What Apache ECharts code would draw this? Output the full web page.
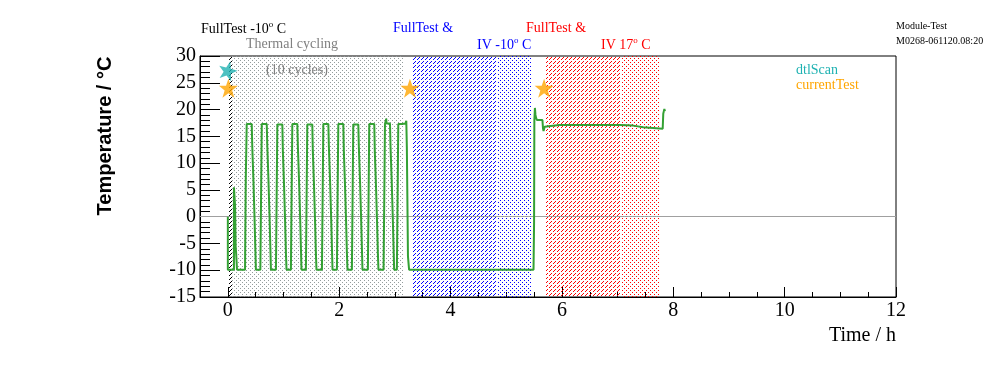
<!DOCTYPE html>
<html>
<head>
<meta charset="utf-8">
<script src="https://cdn.jsdelivr.net/npm/echarts@6/dist/echarts.min.js"></script>
<style>html,body{margin:0;padding:0;background:#fff}#c{width:996px;height:372px}</style>
</head>
<body>
<div id="c"></div>
<script>
// ---- data ----
const timeH = [
  0.0, 0.0, 0.11, 0.11, 0.125, 0.13, 0.14, 0.15, 0.165,
  0.309, 0.322, 0.339, 0.429, 0.439, 0.459, 0.479, 0.494, 0.504,
  0.584, 0.597, 0.609, 0.699, 0.709, 0.729, 0.749, 0.764, 0.774,
  0.864, 0.877, 0.889, 0.979, 0.989, 1.009, 1.029, 1.044, 1.054,
  1.133, 1.146, 1.158, 1.248, 1.258, 1.278, 1.298, 1.313, 1.323,
  1.402, 1.415, 1.427, 1.517, 1.527, 1.547, 1.567, 1.582, 1.592,
  1.690, 1.703, 1.715, 1.805, 1.815, 1.835, 1.855, 1.870, 1.880,
  1.959, 1.972, 1.984, 2.074, 2.084, 2.104, 2.124, 2.139, 2.149,
  2.228, 2.241, 2.253, 2.343, 2.353, 2.373, 2.393, 2.408, 2.418,
  2.515, 2.528, 2.540, 2.630, 2.640, 2.660, 2.680, 2.695, 2.705,
  2.797, 2.810, 2.822, 2.845, 2.850, 2.912, 2.922, 2.942, 2.962, 2.977, 2.987,
  3.036, 3.049, 3.061, 3.130, 3.190, 3.205, 3.215, 3.235, 3.255,
  5.490, 5.500, 5.505, 5.515, 5.525, 5.535, 5.550, 5.650, 5.660, 5.670, 5.690, 5.700,
  5.950, 5.960, 5.980, 6.850, 6.860, 6.880, 7.040, 7.280, 7.460, 7.810, 7.820, 7.840, 7.850
];
const temperatureC = [
  0.0, -9.9, -9.9, 5.5, 5.5, 2.0, -5.5, -7.0, -9.9,
  -9.9, 6.9, 17.3, 17.4, 13, 7, 0, -6, -9.9,
  -9.9, 4, 17.3, 17.4, 13, 7, 0, -6, -9.9,
  -9.9, 4, 17.2, 17.3, 12, 6, -1, -7, -9.9,
  -9.9, 5, 17.3, 17.3, 13, 7, 0, -6, -9.9,
  -9.9, 4, 17.2, 17.3, 12, 6, -1, -7, -9.9,
  -9.9, 4, 17.3, 17.4, 13, 7, 0, -6, -9.9,
  -9.9, 5, 17.3, 17.3, 12, 6, -1, -7, -9.9,
  -9.9, 4, 17.2, 17.3, 13, 7, 0, -6, -9.9,
  -9.9, 4, 17.3, 17.4, 12, 6, -1, -7, -9.9,
  -9.9, 4, 17.3, 18.3, 17.4, 17.4, 13, 7, 0, -6, -9.9,
  -9.9, 4, 17.3, 17.4, 17.6, 17.9, 13, -7.4, -9.9,
  -9.9, -1.0, 18.0, 20.3, 19.0, 18.5, 18.05, 18.05, 16.5, 16.0, 16.8, 17.1,
  17.1, 16.8, 17.1, 17.1, 16.8, 17.1, 17.0, 16.7, 16.4, 16.4, 19.2, 20.1, 19.7
];
const dtlScanTime = [0.0];
const dtlScanTemp = [27.3];
const currentTestTime = [0.01, 3.27, 5.68];
const currentTestTemp = [24.0, 24.0, 24.0];
const bandStart = [0.0, 0.08, 3.31, 4.83, 5.71, 7.07];
const bandEnd   = [0.08, 3.15, 4.83, 5.47, 7.07, 7.77];
const bandFill  = ['blackHatch', 'grayDots', 'blueHatch', 'blueDots', 'redHatch', 'redDots'];
const xMajorTicks = [0, 2, 4, 6, 8, 10, 12];
const xMinorTicks = [0, 0.5, 1, 1.5, 2, 2.5, 3, 3.5, 4, 4.5, 5, 5.5, 6, 6.5, 7, 7.5, 8, 8.5, 9, 9.5, 10, 10.5, 11, 11.5, 12];

// ---- fill patterns (pixel rules, absolute coordinates) ----
const hatchRule = (X, Y) => (X + Y) % 4 === 0 && X % 4 !== 0;
const dotRule = (X, Y) => (X % 4 === 0 && Y % 4 === 0) || (X % 4 === 2 && Y % 4 === 2);
const patternDefs = {
  blackHatch: ['#000000', hatchRule],
  grayDots: ['#949c9c', dotRule],
  blueHatch: ['#0000ff', hatchRule],
  blueDots: ['#0000ff', dotRule],
  redHatch: ['#ff0000', hatchRule],
  redDots: ['#ff0000', dotRule]
};
function makeBand(name, x0, y0, w, h) {
  const c = document.createElement('canvas');
  c.width = Math.max(1, w); c.height = Math.max(1, h);
  const g = c.getContext('2d');
  const def = patternDefs[name];
  g.fillStyle = def[0];
  for (let y = 0; y < h; y++) {
    for (let x = 0; x < w; x++) {
      if (def[1](x0 + x, y0 + y)) g.fillRect(x, y, 1, 1);
    }
  }
  return c;
}

const starPath = 'path://M50,0 L62,34 L98,35 L69,57 L80,92 L50,71 L20,92 L31,57 L2,35 L38,34 Z';
const serif = '"Liberation Serif", "Times New Roman", serif';

function supText(base, sup, tail, color) {
  return {
    text: '{a|' + base + '}{s|' + sup + '}{a|' + tail + '}',
    textAlign: 'left', textVerticalAlign: 'middle',
    rich: {
      a: {fontFamily: serif, fontSize: 14, fill: color, lineHeight: 16, verticalAlign: 'bottom'},
      s: {fontFamily: serif, fontSize: 9, fill: color, lineHeight: 16, verticalAlign: 'top'}
    }
  };
}

const chart = echarts.init(document.getElementById('c'), null, {renderer: 'canvas'});
const gridL = 200, gridT = 56, gridR = 100, gridB = 75;

chart.setOption({
  animation: false,
  backgroundColor: '#fff',
  grid: {left: gridL, top: gridT, right: gridR, bottom: gridB, show: true, borderColor: '#000', borderWidth: 1, backgroundColor: 'transparent'},
  xAxis: [{
    type: 'value', min: -0.5, max: 12, position: 'bottom',
    axisLine: {show: true, onZero: false, lineStyle: {color: '#000', width: 1}},
    axisTick: {show: true, inside: true, length: 10, customValues: xMajorTicks, lineStyle: {color: '#000'}},
    axisLabel: {show: true, customValues: xMajorTicks, color: '#000', fontFamily: serif, fontSize: 20, margin: 4},
    splitLine: {show: false}
  }, {
    type: 'value', min: -0.5, max: 12, position: 'bottom',
    axisLine: {show: false, onZero: false},
    axisTick: {show: true, inside: true, length: 5, customValues: xMinorTicks, lineStyle: {color: '#000'}},
    axisLabel: {show: false},
    splitLine: {show: false}
  }],
  yAxis: {
    type: 'value', min: -15, max: 30, interval: 5,
    axisLine: {show: true, onZero: false, lineStyle: {color: '#000', width: 1}},
    axisTick: {show: true, inside: true, length: 20, lineStyle: {color: '#000'}},
    minorTick: {show: true, splitNumber: 5, length: 10, lineStyle: {color: '#000'}},
    axisLabel: {color: '#000', fontFamily: serif, fontSize: 20, margin: 4},
    splitLine: {show: false}
  },
  series: [{
    type: 'custom',
    xAxisIndex: 0,
    data: bandStart.map((s, i) => [s, bandEnd[i]]),
    renderItem: function (params, api) {
      const a = api.coord([api.value(0), 30]);
      const b = api.coord([api.value(1), -15]);
      const x0 = Math.round(a[0]), y0 = Math.round(a[1]);
      const w = Math.round(b[0]) - x0, h = Math.round(b[1]) - y0;
      return {type: 'image', style: {image: makeBand(bandFill[params.dataIndex], x0, y0, w, h), x: x0, y: y0, width: w, height: h}};
    },
    z: 1, silent: true
  }, {
    type: 'line', xAxisIndex: 0,
    data: timeH.map((t, i) => [t, temperatureC[i]]),
    step: 'end', symbol: 'none',
    lineStyle: {color: '#34a134', width: 2},
    z: 3,
    markLine: {silent: true, symbol: 'none', label: {show: false},
      lineStyle: {color: '#a0a0a0', width: 1, type: 'solid'},
      data: [{yAxis: 0}], z: 2}
  }, {
    type: 'scatter', xAxisIndex: 0,
    data: dtlScanTime.map((t, i) => [t, dtlScanTemp[i]]),
    symbol: starPath, symbolSize: 19, symbolRotate: -15,
    itemStyle: {color: '#1fb2b2'}, z: 5
  }, {
    type: 'scatter', xAxisIndex: 0,
    data: currentTestTime.map((t, i) => [t, currentTestTemp[i]]),
    symbol: starPath, symbolSize: 19,
    itemStyle: {color: '#ffa500'}, z: 5
  }],
  graphic: [
    {type: 'text', x: 201, y: 28, style: supText('FullTest -10', 'o', ' C', '#000000')},
    {type: 'text', x: 292, y: 44, style: {text: 'Thermal cycling', font: '14px ' + serif, fill: '#808080', textAlign: 'center', textVerticalAlign: 'middle'}},
    {type: 'text', x: 297, y: 70, z: 10, style: {text: '(10 cycles)', font: '14px ' + serif, fill: '#808080', textAlign: 'center', textVerticalAlign: 'middle'}},
    {type: 'text', x: 423, y: 28, style: {text: 'FullTest &', font: '14px ' + serif, fill: '#0000ff', textAlign: 'center', textVerticalAlign: 'middle'}},
    {type: 'text', x: 477, y: 44, style: supText('IV -10', 'o', ' C', '#0000ff')},
    {type: 'text', x: 556, y: 28, style: {text: 'FullTest &', font: '14px ' + serif, fill: '#ff0000', textAlign: 'center', textVerticalAlign: 'middle'}},
    {type: 'text', x: 601, y: 44, style: supText('IV 17', 'o', ' C', '#ff0000')},
    {type: 'text', x: 896, y: 26, style: {text: 'Module-Test', font: '10px ' + serif, fill: '#000', textAlign: 'left', textVerticalAlign: 'middle'}},
    {type: 'text', x: 896, y: 41, style: {text: 'M0268-061120.08:20', font: '10px ' + serif, fill: '#000', textAlign: 'left', textVerticalAlign: 'middle'}},
    {type: 'text', x: 796, y: 70, z: 10, style: {text: 'dtlScan', font: '14px ' + serif, fill: '#1fb2b2', textAlign: 'left', textVerticalAlign: 'middle'}},
    {type: 'text', x: 796, y: 85, z: 10, style: {text: 'currentTest', font: '14px ' + serif, fill: '#ffa500', textAlign: 'left', textVerticalAlign: 'middle'}},
    {type: 'text', x: 105, y: 136, rotation: Math.PI / 2, style: {text: 'Temperature / °C', font: 'bold 20px "Liberation Sans", Arial, sans-serif', fill: '#000', textAlign: 'center', textVerticalAlign: 'middle'}},
    {type: 'text', x: 896, y: 336, style: {text: 'Time / h', font: '20px ' + serif, fill: '#000', textAlign: 'right', textVerticalAlign: 'middle'}}
  ]
});
</script>
</body>
</html>
